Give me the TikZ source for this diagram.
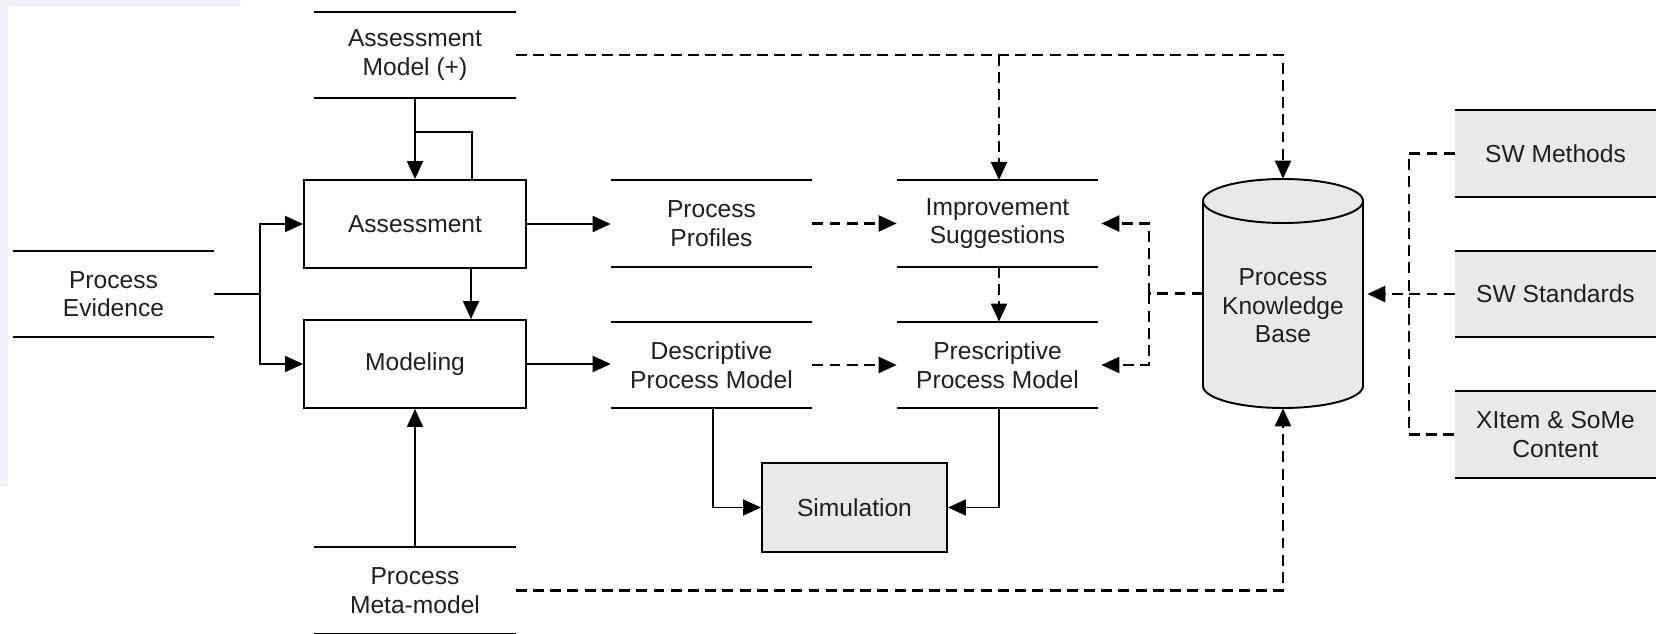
\documentclass[tikz,border=0pt]{standalone}
\usepackage{fontspec}
\setmainfont{Liberation Sans}
\usetikzlibrary{arrows.meta}
\definecolor{boxgray}{HTML}{E9E9E9}
\definecolor{faint}{HTML}{F0F2FA}
\begin{document}
\begin{tikzpicture}[x=0.02cm,y=-0.02cm,
  every node/.style={font=\fontsize{14}{16.2}\selectfont, text=black!88},
  ln/.style={line width=1.1pt},
  arr/.style={ln,-{Triangle[length=0.36cm,width=0.32cm]}},
  dsh/.style={line width=1.25pt,dash pattern=on 6.2pt off 3.6pt},
  darr/.style={dsh,-{Triangle[length=0.36cm,width=0.32cm]}},
  store/.style={inner sep=0pt, minimum width=4.02cm, minimum height=1.72cm, align=center},
  gstore/.style={store, fill=boxgray},
  procbox/.style={draw, ln, inner sep=0pt, minimum width=4.44cm, minimum height=1.76cm, align=center},
  txt/.style={align=center, inner sep=0pt}]
\useasboundingbox (0,0) rectangle (1656,634);
\fill[faint] (0,0) rectangle (240,6);
\fill[faint] (0,0) rectangle (8,487);

% stores
\node[store] (am) at (415,55) {Assessment\\Model (+)};
\node[store] (pe) at (113.5,294) {Process\\Evidence};
\node[store] (mm) at (415,590.5) {Process\\Meta-model};
\node[store] (pp) at (711.5,223.5) {Process\\Profiles};
\node[store] (is) at (997.5,223.5) {Improvement\\Suggestions};
\node[store] (dpm) at (711.5,365) {Descriptive\\Process Model};
\node[store] (ppm) at (997.5,365) {Prescriptive\\Process Model};
\node[gstore] (swm) at (1555.5,153.5) {SW Methods};
\node[gstore] (sws) at (1555.5,294) {SW Standards};
\node[gstore] (xit) at (1555.5,434.5) {XItem \& SoMe\\Content};
\foreach \n in {am,pe,mm,pp,is,dpm,ppm,swm,sws,xit}
  \draw[ln] (\n.north west) -- (\n.north east) (\n.south west) -- (\n.south east);

% process boxes
\node[procbox] (as) at (415,224) {Assessment};
\node[procbox] (mo) at (415,364) {Modeling};
\node[procbox, fill=boxgray, minimum width=3.7cm, minimum height=1.78cm] (sim) at (854.5,507.5) {Simulation};

% knowledge base cylinder
\node[inner sep=0pt, minimum width=3.2cm, minimum height=4.58cm] (kb) at (1283,293.5) {};
\draw[ln, fill=boxgray] (1203,201) -- (1203,386) arc[start angle=180, end angle=360, x radius=1.6cm, y radius=0.44cm] -- (1363,201);
\draw[ln, fill=boxgray] (1283,201) ellipse [x radius=1.6cm, y radius=0.44cm];
\node[txt] (kbt) at (1283,306) {Process\\Knowledge\\Base};

% solid connectors
\draw[arr] (am.south) -- (as.north);
\draw[ln] ([xshift=1.14cm]as.north) -- ++(0,-47) -- ++(-57,0);
\draw[arr] ([xshift=1.12cm]as.south) -- ([xshift=1.12cm]mo.north);
\draw[ln] (pe.east) -- ++(46,0) coordinate (j);
\draw[arr] (j) |- (as.west);
\draw[arr] (j) |- (mo.west);
\draw[arr] (mm.north) -- (mo.south);
\draw[arr] (as.east) -- (as.east -| pp.west);
\draw[arr] (mo.east) -- (mo.east -| dpm.west);
\draw[arr] ([xshift=0.03cm]dpm.south) |- (sim.west);
\draw[arr] ([xshift=0.03cm]ppm.south) |- (sim.east);

% dashed connectors
\draw[darr] (pp.east) -- (pp.east -| is.west);
\draw[darr] (dpm.east) -- (dpm.east -| ppm.west);
\draw[darr] ([xshift=0.03cm]is.south) -- ([xshift=0.03cm]ppm.north);
\draw[darr] (am.east) -| (kb.north);
\draw[darr] (am.east -| 999,0) -- (999,180);
\draw[darr] (mm.east) -| (kb.south);
\draw[dsh] (kb.west) -- ++(-54,0) coordinate (k);
\draw[darr] (k) |- ([xshift=0.06cm]is.east);
\draw[darr] (k) |- ([xshift=0.06cm]ppm.east);
\draw[dsh] (swm.west) -- ++(-46,0) |- (xit.west);
\draw[darr] (sws.west) -- ([xshift=0.08cm]kb.east |- sws.west);
\end{tikzpicture}
\end{document}
